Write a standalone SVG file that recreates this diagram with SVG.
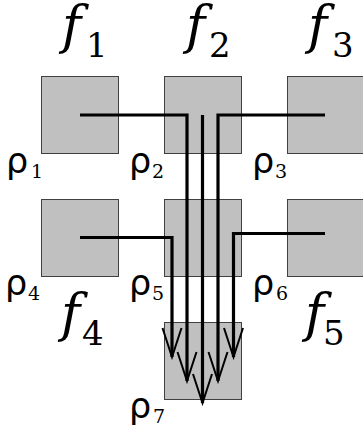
<svg xmlns="http://www.w3.org/2000/svg" width="363" height="430" viewBox="0 0 363 430">
<style>
.box{fill:#c0c0c0;stroke:#404040;stroke-width:1}
.wire{fill:none;stroke:#000;stroke-width:3.2}
.f{font-family:'DejaVu Serif','Liberation Serif',serif;font-style:italic;font-size:52px}
.fs{font-family:'DejaVu Serif','Liberation Serif',serif;font-size:34px}
.r{font-family:'DejaVu Sans','Liberation Sans',sans-serif;font-size:35px}
.rs{font-family:'DejaVu Serif','Liberation Serif',serif;font-size:19px}
</style>
<defs>
<marker id="arr" viewBox="-31 -11 33 22" refX="0" refY="0" markerUnits="userSpaceOnUse" markerWidth="33" markerHeight="22" orient="auto" overflow="visible">
<path d="M-29,-9.5 L0,0 L-29,9.5" fill="none" stroke="#000" stroke-width="2"/>
</marker>
</defs>
<g id="n1"><rect class="box" x="41.5" y="76.5" width="77" height="77"/></g>
<g id="n2"><rect class="box" x="164.5" y="76.5" width="77" height="77"/></g>
<g id="n3"><rect class="box" x="287.5" y="76.5" width="77" height="77"/></g>
<g id="n4"><rect class="box" x="41.5" y="199.5" width="77" height="77"/></g>
<g id="n5"><rect class="box" x="164.5" y="199.5" width="77" height="77"/></g>
<g id="n6"><rect class="box" x="287.5" y="199.5" width="77" height="77"/></g>
<g id="n7"><rect class="box" x="164.5" y="322.5" width="77" height="77"/></g>
<g id="connectors">
<path class="wire" d="M80,115 H187 V381" marker-end="url(#arr)"/>
<path class="wire" d="M202.5,115 V403" marker-end="url(#arr)"/>
<path class="wire" d="M325,115 H218 V381" marker-end="url(#arr)"/>
<path class="wire" d="M80,237.5 H172 V357" marker-end="url(#arr)"/>
<path class="wire" d="M325,233.5 H233.5 V357" marker-end="url(#arr)"/>
</g>
<g id="labels" fill="#000">
<text class="f" x="62" y="43">f</text><text class="fs" x="86" y="57">1</text>
<text class="f" x="186" y="43">f</text><text class="fs" x="209" y="57">2</text>
<text class="f" x="308" y="43">f</text><text class="fs" x="332" y="57">3</text>
<text class="f" x="61" y="331">f</text><text class="fs" x="82" y="345">4</text>
<text class="f" x="305" y="331">f</text><text class="fs" x="323" y="345">5</text>
<text class="r" x="6" y="173">ρ</text><text class="rs" x="31" y="178">1</text>
<text class="r" x="129" y="173">ρ</text><text class="rs" x="152" y="178">2</text>
<text class="r" x="252" y="173">ρ</text><text class="rs" x="275" y="178">3</text>
<text class="r" x="5" y="295">ρ</text><text class="rs" x="28" y="300">4</text>
<text class="r" x="129" y="295">ρ</text><text class="rs" x="152" y="300">5</text>
<text class="r" x="252" y="295">ρ</text><text class="rs" x="276" y="300">6</text>
<text class="r" x="129" y="418">ρ</text><text class="rs" x="153" y="423">7</text>
</g>
</svg>
